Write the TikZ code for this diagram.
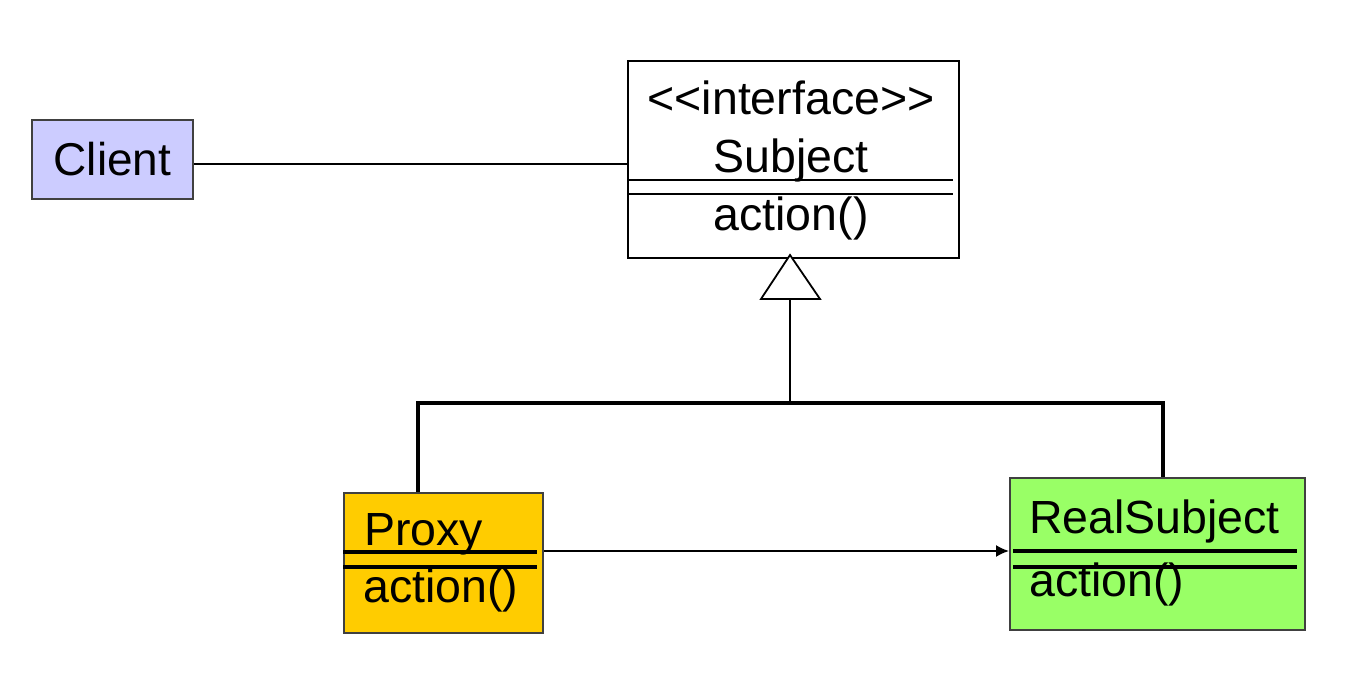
\documentclass[tikz,border=0pt]{standalone}
\usepackage{fontspec}
\setmainfont{Liberation Sans}[Ligatures=TeXOff]
\usetikzlibrary{arrows.meta}
\definecolor{clientblue}{HTML}{CCCCFF}
\definecolor{proxyorange}{HTML}{FFCC00}
\definecolor{realgreen}{HTML}{99FF66}
\begin{document}
\begin{tikzpicture}[x=1pt,y=-1pt,
  box/.style={draw=black!75, line width=2pt, anchor=north west, inner sep=0pt},
  lbl/.style={inner sep=0pt, font=\fontsize{46.5}{52}\selectfont},
  sep/.style={line width=3.5pt},
  conn/.style={line width=1.8pt},
  tree/.style={line width=3.2pt}]
\useasboundingbox (0,0) rectangle (1360,674);
% boxes
\node[box, fill=clientblue, minimum width=161pt, minimum height=79pt] (client) at (31,119) {};
\node[box, draw=black, fill=white, minimum width=331pt, minimum height=197pt] (subject) at (627,60) {};
\node[box, fill=proxyorange, minimum width=199pt, minimum height=140pt] (proxy) at (343,492) {};
\node[box, fill=realgreen, minimum width=295pt, minimum height=152pt] (real) at (1009,477) {};
% texts
\node[lbl, font=\fontsize{46}{52}\selectfont] (clientT) at (client.center) {Client};
\node[lbl, anchor=base] (stereo) at (791,115) {<<interface>>};
\node[lbl, anchor=base] (subjT) at (791,172) {Subject};
\node[lbl, anchor=base] (subjA) at (791,230) {action()};
\node[lbl, anchor=base west] (proxyT) at (364,545) {Proxy};
\node[lbl, anchor=base west] (proxyA) at (363,602) {action()};
\node[lbl, anchor=base west] (realT) at (1029,533) {RealSubject};
\node[lbl, anchor=base west] (realA) at (1029,596) {action()};
% compartment lines
\draw[conn] (627,180) -- (953,180);
\draw[conn] (627,194) -- (953,194);
\draw[sep] (343,552) -- (537,552);
\draw[sep] (343,567) -- (537,567);
\draw[sep] (1013,551) -- (1297,551);
\draw[sep] (1013,567) -- (1297,567);
% association client - subject
\coordinate (cl) at (client.east |- 0,164);
\coordinate (sl) at (subject.west |- 0,164);
\draw[conn] (cl) -- (sl);
% generalization
\coordinate (tip) at (790,255);
\coordinate (tb) at (790,299);
\coordinate (junc) at (790,403);
\draw[conn, fill=white] (tip) -- (761,299) -- (820,299) -- cycle;
\draw[conn] (tb) -- (junc);
\draw[tree] (proxy.north -| 418,0) |- (junc) -| (real.north -| 1163,0);
% proxy -> real subject
\draw[conn, -{Latex[length=13pt,width=12pt]}] (proxy.east |- 0,551) -- (real.west |- 0,551);
\end{tikzpicture}
\end{document}
